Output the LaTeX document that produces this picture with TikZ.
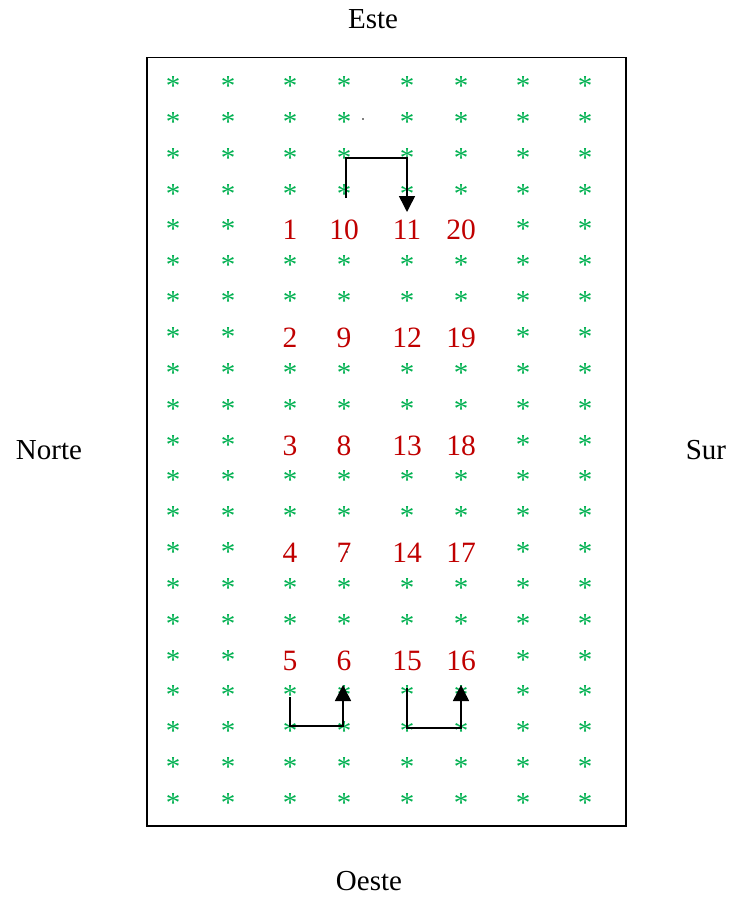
\documentclass[tikz,border=0pt]{standalone}
\usepackage{fontspec}
\setmainfont{Liberation Serif}
\usetikzlibrary{arrows.meta}
\definecolor{astgreen}{HTML}{00B050}
\definecolor{numred}{HTML}{C00000}
\tikzset{
  ast/.style={text=astgreen, inner sep=0pt, anchor=base, font=\fontsize{29}{34}\selectfont},
  num/.style={text=numred, inner sep=0pt, anchor=base, font=\fontsize{29.5}{34}\selectfont},
  lbl/.style={text=black, inner sep=0pt, anchor=base, font=\fontsize{29}{34}\selectfont},
  frame/.style={draw=black, line width=1.5pt},
  arr/.style={draw=black, line width=1.5pt, -{Triangle[length=16pt,width=16pt]}},
  plain/.style={draw=black, line width=1.5pt}
}
\begin{document}
\begin{tikzpicture}[x=1pt,y=-1pt]
\useasboundingbox (0,0) rectangle (732,899);
\node[draw=none, minimum width=479pt, minimum height=768pt, frame, anchor=north west] (box) at (146,57) {};
% grid
\foreach \r in {1,...,21}{
  \pgfmathsetmacro{\yy}{82+(\r-1)*35.85}
  \foreach \c/\xx in {1/173,2/228,3/290,4/344,5/407,6/461,7/523,8/585}{
    \pgfmathtruncatemacro{\isnum}{(mod(\r-5,3)==0 && \r>=5 && \r<=17 && \c>=3 && \c<=6) ? 1 : 0}
    \ifnum\isnum=0
      \node[ast] (a-\r-\c) at (\xx,\yy+13.5) {*};
    \fi
  }
}
% numbers
\foreach \k in {0,...,4}{
  \pgfmathsetmacro{\yy}{82+(4+3*\k)*35.85+14.5}
  \pgfmathtruncatemacro{\na}{\k+1}
  \pgfmathtruncatemacro{\nb}{10-\k}
  \pgfmathtruncatemacro{\nc}{11+\k}
  \pgfmathtruncatemacro{\nd}{20-\k}
  \node[num] (n\na) at (290,\yy) {\na};
  \node[num] (n\nb) at (344,\yy) {\nb};
  \node[num] (n\nc) at (407,\yy) {\nc};
  \node[num] (n\nd) at (461,\yy) {\nd};
}
% labels
\node[lbl] (este) at (373,29) {Este};
\node[lbl] (oeste) at (369,890) {Oeste};
\node[lbl] (norte) at (49,459) {Norte};
\node[lbl] (sur) at (706,459) {Sur};
% arrows
\coordinate (t1) at (346,198);
\coordinate (t2) at (346,158);
\coordinate (t3) at (407,158);
\coordinate (t4) at (407,212);
\draw[arr] (t1) -- (t2) -- (t3) -- (t4);
\coordinate (l1) at (290,697);
\coordinate (l2) at (290,726);
\coordinate (l3) at (343,726);
\coordinate (l4) at (343,685);
\draw[arr] (l1) -- (l2) -- (l3) -- (l4);
\coordinate (r1) at (407,688);
\coordinate (r2) at (407,728);
\coordinate (r3) at (461,728);
\coordinate (r4) at (461,685);
\draw[arr] (r1) -- (r2) -- (r3) -- (r4);
% stray dots
\fill[black] (363,119) circle (0.9pt);
\fill[black] (347,552) circle (0.9pt);
\end{tikzpicture}
\end{document}
